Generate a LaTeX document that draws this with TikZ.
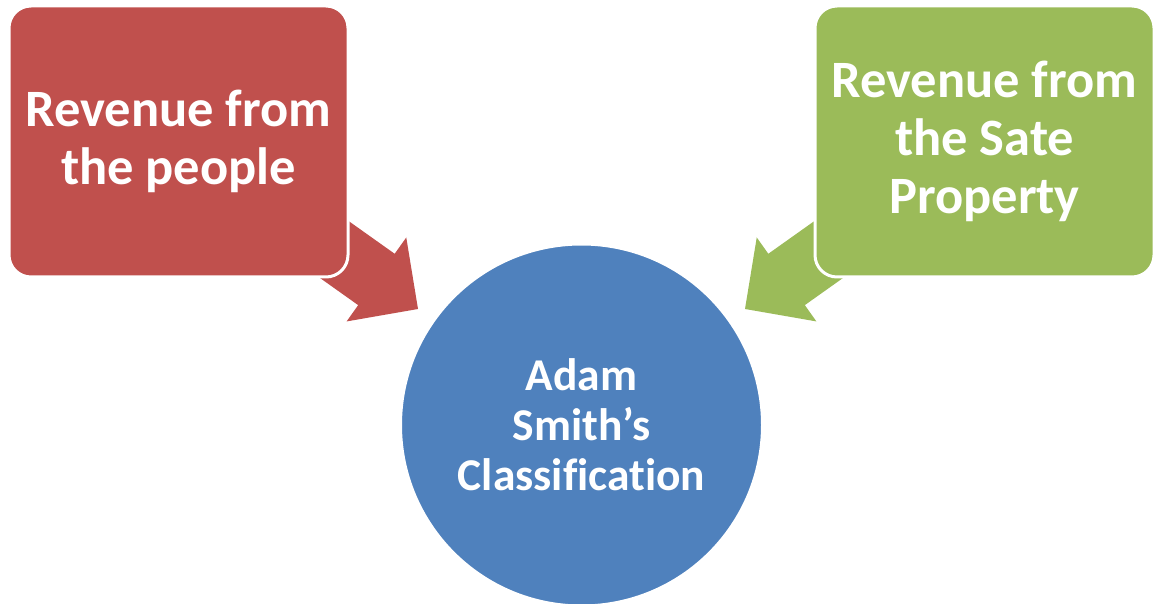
\documentclass[tikz,border=0pt]{standalone}
\usepackage{fontspec}
\setmainfont{Carlito}[Ligatures=NoCommon]
\definecolor{cred}{HTML}{C0504D}
\definecolor{cgreen}{HTML}{9BBB59}
\definecolor{cblue}{HTML}{4F81BD}
\begin{document}
\begin{tikzpicture}[x=1pt,y=1pt,
  box/.style={draw=white, line width=3pt, rounded corners=22pt, minimum width=339pt, minimum height=271pt,
    text=white, align=center, font=\fontsize{52.5}{58}\selectfont\bfseries, inner sep=0pt},
  hub/.style={circle, draw=white, line width=3pt, fill=cblue, minimum size=362pt, inner sep=0pt,
    text=white, align=center, font=\fontsize{45.5}{50}\selectfont\bfseries}]
\useasboundingbox (0,0) rectangle (1160,603);
\coordinate (rtip) at (418,294);
\coordinate (gtip) at (745,294);
% arrows
\begin{scope}[shift={(rtip)}, rotate=-35.4]
  \fill[cred] (0,0) -- (-51,51.5) -- (-51,31.5) -- (-150,31.5) -- (-150,-31.5) -- (-51,-31.5) -- (-51,-51.5) -- cycle;
\end{scope}
\begin{scope}[shift={(gtip)}, rotate=215.4]
  \fill[cgreen] (0,0) -- (-51,51.5) -- (-51,31.5) -- (-150,31.5) -- (-150,-31.5) -- (-51,-31.5) -- (-51,-51.5) -- cycle;
\end{scope}
% boxes
\node[box, fill=cred] (people) at (178.5,461.5) {Revenue from\\the people};
\node[box, fill=cgreen] (state) at (984.5,461.5) {Revenue from\\the Sate\\Property};
\node[hub] (adam) at (581.5,178) {Adam\\Smith’s\\Classification};
\end{tikzpicture}
\end{document}
